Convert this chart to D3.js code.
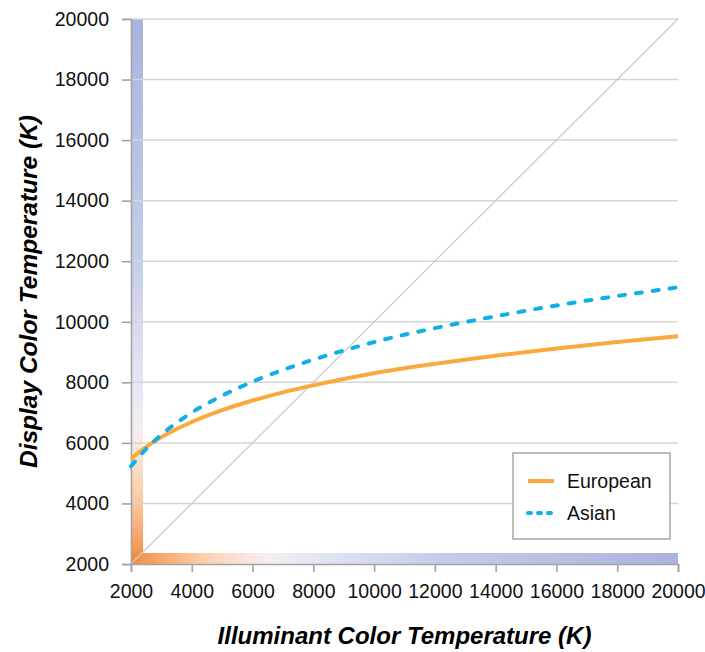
<!DOCTYPE html>
<html>
<head>
<meta charset="utf-8">
<script src="https://cdn.jsdelivr.net/npm/d3@7"></script>
<style>
  body { margin: 0; background: #fff; }
  text { font-family: Arial, "Liberation Sans", sans-serif; }
</style>
</head>
<body>
<div id="chart"></div>
<script>
// illuminant temperature (K)
var illuminant = [2000, 2500, 3000, 4000, 5000, 6000, 7000, 8000, 9000, 10000, 12000, 14000, 16000, 18000, 20000];
// display temperature (K) per group
var european = [5480, 5870, 6190, 6690, 7080, 7400, 7670, 7900, 8110, 8300, 8610, 8880, 9120, 9330, 9520];
var asian    = [5230, 5800, 6270, 7000, 7560, 8020, 8410, 8750, 9050, 9330, 9790, 10180, 10540, 10850, 11140];

var seriesNames = ["European", "Asian"];
var xTicks = [2000, 4000, 6000, 8000, 10000, 12000, 14000, 16000, 18000, 20000];
var yTicks = [2000, 4000, 6000, 8000, 10000, 12000, 14000, 16000, 18000, 20000];

// colour of the temperature bars along the axes
var barTemps  = [2000, 3000, 4500, 6500, 8500, 12000, 20000];
var barColors = ["#f28a3e", "#f7a870", "#fcd3b2", "#f6eef3", "#dfe3f2", "#c6cde9", "#a9b3dd"];

var margin = {top: 19, right: 27, bottom: 88, left: 131},
    width = 705 - margin.left - margin.right,
    height = 652 - margin.top - margin.bottom;

var svg = d3.select("#chart")
  .append("svg")
    .attr("width", 705)
    .attr("height", 652);

var x = d3.scaleLinear().domain([2000, 20000]).range([0, width]);
var y = d3.scaleLinear().domain([2000, 20000]).range([height, 0]);

var g = svg.append("g")
  .attr("transform", "translate(" + margin.left + "," + margin.top + ")");

// gradients in data units
var defs = svg.append("defs");
var tScale = d3.scaleLinear().domain([2000, 20000]).range([0, 1]);

var gradV = defs.append("linearGradient")
  .attr("id", "gradV")
  .attr("x1", 0).attr("y1", 1).attr("x2", 0).attr("y2", 0);
var gradH = defs.append("linearGradient")
  .attr("id", "gradH")
  .attr("x1", 0).attr("y1", 0).attr("x2", 1).attr("y2", 0);
[gradV, gradH].forEach(function(gr){
  gr.selectAll("stop")
    .data(barTemps)
    .enter().append("stop")
      .attr("offset", function(d){ return tScale(d); })
      .attr("stop-color", function(d, i){ return barColors[i]; });
});

// bars along axes
g.append("rect")
  .attr("x", 0)
  .attr("y", y(20000))
  .attr("width", 12)
  .attr("height", y(2000) - y(20000))
  .attr("fill", "url(#gradV)");

g.append("rect")
  .attr("x", 0)
  .attr("y", height - 11)
  .attr("width", x(20000) - x(2000))
  .attr("height", 11)
  .attr("fill", "url(#gradH)");

// gridlines
g.append("g")
  .selectAll("line")
  .data(yTicks.slice(1))
  .enter().append("line")
    .attr("x1", 0)
    .attr("x2", width)
    .attr("y1", function(d){ return y(d); })
    .attr("y2", function(d){ return y(d); })
    .attr("stroke", "#d6d6d6")
    .attr("stroke-width", 1.5);

// identity diagonal
g.append("line")
  .attr("x1", x(2000)).attr("y1", y(2000))
  .attr("x2", x(20000)).attr("y2", y(20000))
  .attr("stroke", "#c9c9c9")
  .attr("stroke-width", 1.2);

// axes
var xAxis = d3.axisBottom(x)
  .tickValues(xTicks)
  .tickSize(8)
  .tickPadding(12)
  .tickFormat(d3.format("d"));

var yAxis = d3.axisLeft(y)
  .tickValues(yTicks)
  .tickSize(9)
  .tickPadding(13)
  .tickFormat(d3.format("d"));

var gx = g.append("g")
  .attr("transform", "translate(0," + height + ")")
  .call(xAxis);

var gy = g.append("g")
  .call(yAxis);

[gx, gy].forEach(function(ax){
  ax.select(".domain").attr("stroke", "#a3a3a3").attr("stroke-width", 1.6);
  ax.selectAll(".tick line").attr("stroke", "#a3a3a3").attr("stroke-width", 1.6);
  ax.selectAll(".tick text")
    .attr("fill", "#111")
    .style("font-size", "19.5px");
});

// curves
var line = d3.line()
  .x(function(d){ return x(d[0]); })
  .y(function(d){ return y(d[1]); })
  .curve(d3.curveMonotoneX);

g.append("path")
  .datum(d3.zip(illuminant, european))
  .attr("fill", "none")
  .attr("stroke", "#f9aa3c")
  .attr("stroke-width", 4)
  .attr("d", line);

g.append("path")
  .datum(d3.zip(illuminant, asian))
  .attr("fill", "none")
  .attr("stroke", "#12aee8")
  .attr("stroke-width", 4)
  .attr("stroke-linecap", "round")
  .attr("stroke-dasharray", "6,11")
  .attr("d", line);

// legend
var legend = svg.append("g")
  .attr("transform", "translate(513,453)");

legend.append("rect")
  .attr("width", 157)
  .attr("height", 86)
  .attr("fill", "#fff")
  .attr("stroke", "#a6a6a6")
  .attr("stroke-width", 1.5);

var legendStyles = [
  {color: "#f9aa3c", dash: null, cap: "butt"},
  {color: "#12aee8", dash: "3,7", cap: "round"}
];

seriesNames.forEach(function(name, i){
  var row = legend.append("g").attr("transform", "translate(0," + (28 + i * 32) + ")");
  row.append("line")
    .attr("x1", 15).attr("x2", 41)
    .attr("stroke", legendStyles[i].color)
    .attr("stroke-width", 4)
    .attr("stroke-linecap", legendStyles[i].cap)
    .attr("stroke-dasharray", legendStyles[i].dash);
  row.append("text")
    .attr("x", 54)
    .attr("y", 7)
    .attr("fill", "#111")
    .style("font-size", "19.5px")
    .text(name);
});

// axis titles
svg.append("text")
  .attr("x", margin.left + width / 2)
  .attr("y", 644)
  .attr("text-anchor", "middle")
  .style("font-size", "24px")
  .style("font-weight", "bold")
  .style("font-style", "italic")
  .text("Illuminant Color Temperature (K)");

svg.append("text")
  .attr("transform", "translate(37," + (margin.top + height / 2) + ") rotate(-90)")
  .attr("text-anchor", "middle")
  .style("font-size", "24.5px")
  .style("font-weight", "bold")
  .style("font-style", "italic")
  .text("Display Color Temperature (K)");
</script>
</body>
</html>
